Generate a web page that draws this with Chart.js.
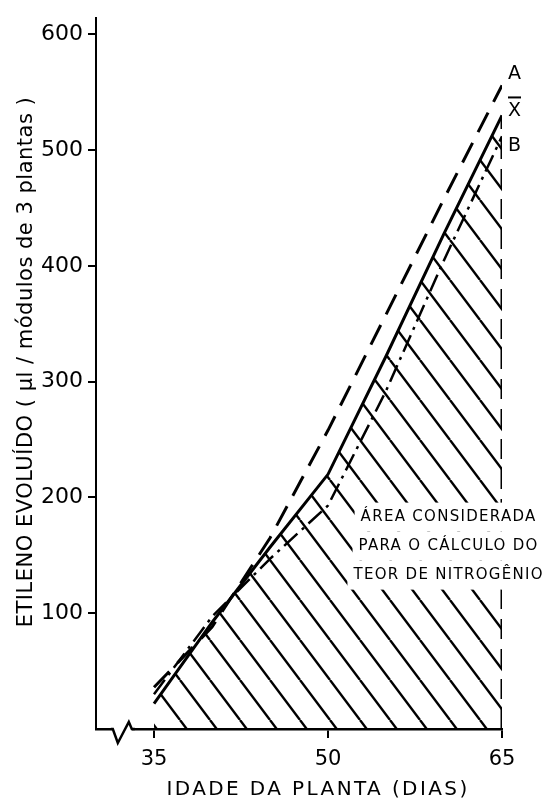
<!DOCTYPE html>
<html>
<head>
<meta charset="utf-8">
<script src="https://cdn.jsdelivr.net/npm/chart.js@4.4.1/dist/chart.umd.min.js"></script>
<style>
  html, body { margin: 0; padding: 0; background: #fff; }
  #wrap { width: 550px; height: 799px; }
</style>
</head>
<body>
<div id="wrap"><canvas id="chart" width="550" height="799"></canvas></div>
<script>
// Etileno evoluído x idade da planta
const days = [35, 40, 45, 50, 55, 60, 65];
const curveA = [36, 88, 165, 258, 358, 458, 556];
const curveMean = [22, 92, 157, 220, 322, 428, 530];
const curveB = [30, 97, 147, 193, 292, 405, 512];
const xTicks = [35, 50, 65];
const yTicks = [100, 200, 300, 400, 500, 600];
const areaNote = ['ÁREA CONSIDERADA', 'PARA O CÁLCULO DO', 'TEOR DE NITROGÊNIO'];
const xTitle = 'IDADE DA PLANTA (DIAS)';
const yTitle = 'ETILENO EVOLUÍDO ( µl / módulos de 3 plantas )';

const FONT = '"DejaVu Sans", sans-serif';
const pts = arr => days.map((d, i) => ({ x: d, y: arr[i] }));
const lastDay = days[days.length - 1];

function hatch() {
  const c = document.createElement('canvas');
  c.width = 30; c.height = 40;
  const g = c.getContext('2d');
  g.strokeStyle = '#000';
  g.lineWidth = 2.4;
  g.beginPath();
  for (const dx of [-30, 0, 30]) { g.moveTo(dx, 0); g.lineTo(dx + 30, 40); }
  g.stroke();
  return g.createPattern(c, 'repeat');
}

const decor = {
  id: 'decor',
  afterDatasetsDraw(chart) {
    const { ctx, scales: { x, y } } = chart;
    ctx.save();
    ctx.fillStyle = '#000';
    ctx.strokeStyle = '#000';

    // note over the hatched area
    ctx.font = '15px ' + FONT;
    ctx.letterSpacing = '1.3px';
    ctx.textAlign = 'center';
    ctx.textBaseline = 'alphabetic';
    const cx = x.getPixelForValue(60.4);
    const by = y.getPixelForValue(180);
    areaNote.forEach((t, i) => {
      const w = ctx.measureText(t).width;
      ctx.fillStyle = '#fff';
      ctx.fillRect(cx - w / 2 - 6, by + i * 29 - 18, w + 12, 29);
    });
    ctx.fillStyle = '#000';
    areaNote.forEach((t, i) => ctx.fillText(t, cx, by + i * 29));

    // curve names at the right end
    ctx.font = '19px ' + FONT;
    ctx.letterSpacing = '0px';
    ctx.textAlign = 'left';
    const lx = x.getPixelForValue(lastDay) + 6;
    const yA = y.getPixelForValue(curveA[curveA.length - 1]) - 6;
    const yM = y.getPixelForValue(curveMean[curveMean.length - 1]) + 1;
    const yB = y.getPixelForValue(curveB[curveB.length - 1]) + 15;
    ctx.fillText('A', lx, yA);
    ctx.fillText('X', lx, yM);
    const wX = ctx.measureText('X').width;
    ctx.lineWidth = 2;
    ctx.beginPath();
    ctx.moveTo(lx, yM - 19);
    ctx.lineTo(lx + wX, yM - 19);
    ctx.stroke();
    ctx.fillText('B', lx, yB);
    ctx.restore();
  },
  afterDraw(chart) {
    const { ctx, scales: { x, y } } = chart;
    ctx.save();
    // axis break
    const xb = x.getPixelForValue(31.45), yb = y.bottom;
    ctx.fillStyle = '#fff';
    ctx.fillRect(xb - 1, yb - 4, 20, 8);
    ctx.strokeStyle = '#000';
    ctx.lineWidth = 2.5;
    ctx.beginPath();
    ctx.moveTo(xb - 2, yb);
    ctx.lineTo(xb, yb);
    ctx.lineTo(xb + 5, yb + 14);
    ctx.lineTo(xb + 16, yb - 7);
    ctx.lineTo(xb + 19, yb);
    ctx.lineTo(xb + 22, yb);
    ctx.stroke();

    // axis titles
    ctx.fillStyle = '#000';
    ctx.font = '20px ' + FONT;
    ctx.letterSpacing = '2.4px';
    ctx.textAlign = 'center';
    ctx.textBaseline = 'alphabetic';
    ctx.fillText(xTitle, 318, 795);

    ctx.font = '21px ' + FONT;
    ctx.letterSpacing = '0.5px';
    ctx.translate(32, 362);
    ctx.rotate(-Math.PI / 2);
    ctx.fillText(yTitle, 0, 0);
    ctx.restore();
  }
};

new Chart(document.getElementById('chart'), {
  type: 'line',
  data: {
    datasets: [
      { label: 'X', data: pts(curveMean), borderColor: '#000', borderWidth: 3,
        fill: 'origin', backgroundColor: hatch(), pointRadius: 0, tension: 0 },
      { label: 'A', data: pts(curveA), borderColor: '#000', borderWidth: 3,
        borderDash: [22, 12], fill: false, pointRadius: 0, tension: 0 },
      { label: 'B', data: pts(curveB), borderColor: '#000', borderWidth: 2.5,
        borderDash: [18, 6, 3, 6], fill: false, pointRadius: 0, tension: 0 },
      { label: 'limite', data: [{ x: lastDay, y: 0 }, { x: lastDay, y: curveMean[curveMean.length - 1] }],
        borderColor: '#000', borderWidth: 3, borderDash: [20, 10], fill: false, pointRadius: 0 }
    ]
  },
  options: {
    responsive: false,
    animation: false,
    layout: { padding: { left: 0, right: 48, top: 13, bottom: 0 } },
    plugins: { legend: { display: false }, tooltip: { enabled: false } },
    scales: {
      x: {
        type: 'linear', min: 30, max: 65,
        afterBuildTicks: s => { s.ticks = xTicks.map(v => ({ value: v })); },
        afterFit: s => { s.height = 70; },
        border: { color: '#000', width: 2.5 },
        grid: { drawOnChartArea: false, color: '#000', lineWidth: 2, tickLength: 9 },
        ticks: { color: '#000', font: { family: FONT, size: 21 }, padding: 9, maxRotation: 0 }
      },
      y: {
        min: 0, max: 614,
        afterBuildTicks: s => { s.ticks = yTicks.map(v => ({ value: v })); },
        afterFit: s => { s.width = 96; },
        border: { color: '#000', width: 2 },
        grid: { drawOnChartArea: false, color: '#000', lineWidth: 2, tickLength: 8 },
        ticks: { color: '#000', font: { family: FONT, size: 22 }, padding: 5 }
      }
    }
  },
  plugins: [decor]
});
</script>
</body>
</html>
